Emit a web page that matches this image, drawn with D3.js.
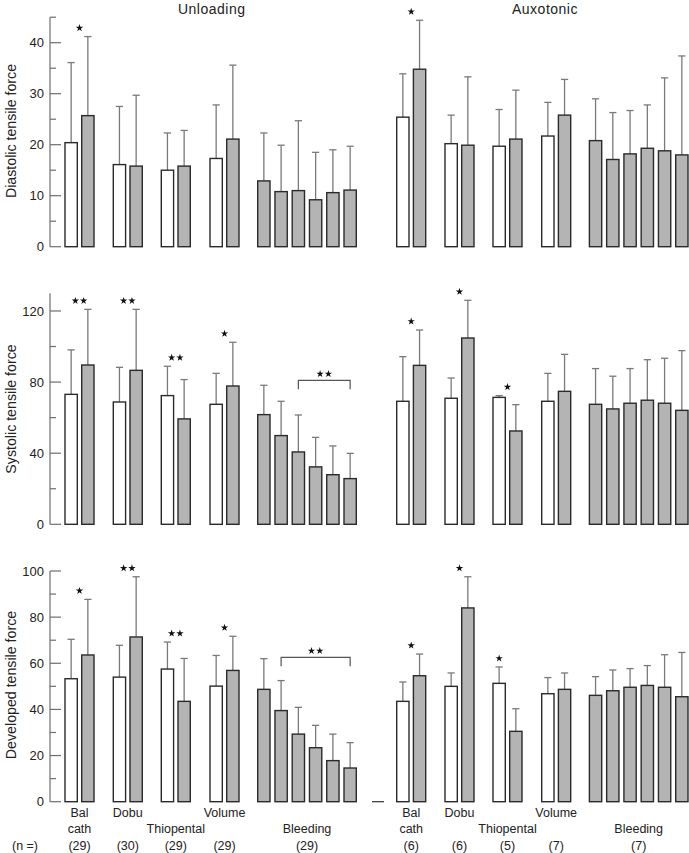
<!DOCTYPE html>
<html><head><meta charset="utf-8">
<script src="https://cdn.jsdelivr.net/npm/d3@7/dist/d3.min.js"></script>
<style>body{margin:0;background:#fff} svg{display:block} text{font-family:"Liberation Sans",Arial,sans-serif;fill:#222}</style>
</head><body><svg id="c" width="689" height="853"></svg>
<script>
// ---------------- DATA ----------------
const groupNames = ["Bal cath","Dobu","Thiopental","Volume","Bleeding"];
const nLeft = ["(29)","(30)","(29)","(29)","(29)"];
const nRight = ["(6)","(6)","(5)","(7)","(7)"];
const sideTitles = ["Unloading","Auxotonic"];
const panelTitles = ["Diastolic tensile force","Systolic tensile force","Developed tensile force"];

const diaMajor = [0,10,20,30,40];  const diaMinor = [5,15,25,35,45];
const sysMajor = [0,40,80,120];    const sysMinor = [20,60,100];
const devMajor = [0,20,40,60,80,100]; const devMinor = [10,30,50,70,90];

// Diastolic - Unloading
const diaUnlBase = [20.4,16.1,15.0,17.3];   const diaUnlBaseSD = [15.7,11.4,7.3,10.5];
const diaUnlInt  = [25.7,15.8,15.8,21.1];   const diaUnlIntSD  = [15.5,13.9,7.0,14.5];
const diaUnlBleed = [12.9,10.8,11.0,9.2,10.6,11.1]; const diaUnlBleedSD = [9.4,9.1,13.7,9.3,8.4,8.6];
const diaUnlSig = ["*","","",""];
// Diastolic - Auxotonic
const diaAuxBase = [25.4,20.2,19.7,21.7];   const diaAuxBaseSD = [8.5,5.6,7.2,6.6];
const diaAuxInt  = [34.8,19.9,21.1,25.8];   const diaAuxIntSD  = [9.6,13.4,9.6,7.0];
const diaAuxBleed = [20.8,17.1,18.2,19.3,18.8,18.0]; const diaAuxBleedSD = [8.2,9.2,8.5,8.5,14.3,19.4];
const diaAuxSig = ["*","","",""];

// Systolic - Unloading
const sysUnlBase = [73.1,68.8,72.4,67.5];   const sysUnlBaseSD = [25.0,19.5,16.5,17.4];
const sysUnlInt  = [89.6,86.6,59.3,77.8];   const sysUnlIntSD  = [31.3,34.3,22.1,24.6];
const sysUnlBleed = [61.7,49.9,40.7,32.3,27.9,25.7]; const sysUnlBleedSD = [16.5,19.3,20.8,16.6,16.2,14.2];
const sysUnlSig = ["**","**","**","*"];
const sysUnlBracket = {from:2, to:5, level:81, label:"**"};
// Systolic - Auxotonic
const sysAuxBase = [69.2,70.9,71.4,69.2];   const sysAuxBaseSD = [25.1,11.4,1.0,15.7];
const sysAuxInt  = [89.4,104.8,52.5,74.8];  const sysAuxIntSD  = [19.9,21.2,14.8,20.8];
const sysAuxBleed = [67.5,64.9,68.1,69.8,68.1,64.1]; const sysAuxBleedSD = [20.1,18.4,19.5,22.8,25.3,33.6];
const sysAuxSig = ["*","*","*",""];

// Developed - Unloading
const devUnlBase = [53.3,54.0,57.5,50.1];   const devUnlBaseSD = [17.1,13.8,11.7,13.3];
const devUnlInt  = [63.6,71.4,43.5,56.9];   const devUnlIntSD  = [24.1,26.1,18.6,14.8];
const devUnlBleed = [48.7,39.5,29.3,23.4,17.8,14.6]; const devUnlBleedSD = [13.3,13.0,11.6,9.7,11.5,11.0];
const devUnlSig = ["*","**","**","*"];
const devUnlBracket = {from:1, to:5, level:62.6, label:"**"};
// Developed - Auxotonic
const devAuxBase = [43.5,50.0,51.3,46.8];   const devAuxBaseSD = [8.4,5.8,7.1,7.0];
const devAuxInt  = [54.6,84.0,30.5,48.7];   const devAuxIntSD  = [9.4,13.5,9.8,7.1];
const devAuxBleed = [46.1,48.1,49.6,50.4,49.6,45.5]; const devAuxBleedSD = [8.1,9.0,8.1,8.6,14.1,19.2];
const devAuxSig = ["*","*","*",""];
const devAuxSigAnchor = ["pair","pair","first","pair"];

// ---------------- LAYOUT ----------------
const svg = d3.select("#c");
const GREY = "#b4b4b4", STROKE = "#2a2a2a", ERR = "#7a7a7a", AXIS = "#6e6e6e";
const axisX = 50, barW = 12.3, capHalf = 3.6;
const sideOrigin = [65, 396.7];
const unit = d3.scaleLinear().domain([0,1]).range([0,16.7]);   // one bar step
const groupStart = [0, 2.892, 5.766, 8.683, 11.539];
const bleedStep = 1.0335;

const panels = [
  {title:panelTitles[0], domain:[0,45], range:[246.7,17.2], major:diaMajor, minor:diaMinor, titleY:131,
   sides:[
     {base:diaUnlBase, baseSD:diaUnlBaseSD, int:diaUnlInt, intSD:diaUnlIntSD, bleed:diaUnlBleed, bleedSD:diaUnlBleedSD, sig:diaUnlSig},
     {base:diaAuxBase, baseSD:diaAuxBaseSD, int:diaAuxInt, intSD:diaAuxIntSD, bleed:diaAuxBleed, bleedSD:diaAuxBleedSD, sig:diaAuxSig}]},
  {title:panelTitles[1], domain:[0,130], range:[524.3,293.2], major:sysMajor, minor:sysMinor, titleY:409,
   sides:[
     {base:sysUnlBase, baseSD:sysUnlBaseSD, int:sysUnlInt, intSD:sysUnlIntSD, bleed:sysUnlBleed, bleedSD:sysUnlBleedSD, sig:sysUnlSig, bracket:sysUnlBracket},
     {base:sysAuxBase, baseSD:sysAuxBaseSD, int:sysAuxInt, intSD:sysAuxIntSD, bleed:sysAuxBleed, bleedSD:sysAuxBleedSD, sig:sysAuxSig}]},
  {title:panelTitles[2], domain:[0,100], range:[801.7,571], major:devMajor, minor:devMinor, titleY:685, breakMark:true,
   sides:[
     {base:devUnlBase, baseSD:devUnlBaseSD, int:devUnlInt, intSD:devUnlIntSD, bleed:devUnlBleed, bleedSD:devUnlBleedSD, sig:devUnlSig, bracket:devUnlBracket},
     {base:devAuxBase, baseSD:devAuxBaseSD, int:devAuxInt, intSD:devAuxIntSD, bleed:devAuxBleed, bleedSD:devAuxBleedSD, sig:devAuxSig, anchor:devAuxSigAnchor}]}
];

const star = d3.symbol().type(d3.symbolStar).size(17);
function drawStars(g, label, cx, cy){
  const n = label.length;
  for(let i=0;i<n;i++){
    g.append("path").attr("d", star).attr("fill","#111")
     .attr("transform", `translate(${cx + (i-(n-1)/2)*8.3},${cy})`);
  }
}

panels.forEach(p => {
  const y = d3.scaleLinear().domain(p.domain).range(p.range);
  const g = svg.append("g");
  g.append("line").attr("x1",axisX).attr("x2",axisX).attr("y1",y(p.domain[0])).attr("y2",y(p.domain[1]))
    .attr("stroke",AXIS).attr("stroke-width",1.2);
  p.major.forEach(v => {
    g.append("line").attr("x1",axisX).attr("x2",axisX+11).attr("y1",y(v)).attr("y2",y(v)).attr("stroke",AXIS).attr("stroke-width",1.2);
    g.append("text").attr("x",axisX-6).attr("y",y(v)).attr("dy","0.36em").attr("text-anchor","end")
      .attr("font-size",13).text(v);
  });
  p.minor.forEach(v => {
    g.append("line").attr("x1",axisX).attr("x2",axisX+6).attr("y1",y(v)).attr("y2",y(v)).attr("stroke",AXIS).attr("stroke-width",1.2);
  });
  g.append("text").attr("transform",`translate(15.5,${p.titleY}) rotate(-90)`).attr("text-anchor","middle")
    .attr("font-size",14.2).text(p.title);

  if(p.breakMark){
    g.append("line").attr("x1",372).attr("x2",384).attr("y1",y(0)).attr("y2",y(0)).attr("stroke","#333").attr("stroke-width",1.2);
  }

  p.sides.forEach((s, si) => {
    const ox = sideOrigin[si];
    const bars = [];
    s.base.forEach((v,gi) => {
      bars.push({slot:groupStart[gi], v, sd:s.baseSD[gi], fill:"#fff", grp:gi});
      bars.push({slot:groupStart[gi]+1, v:s.int[gi], sd:s.intSD[gi], fill:GREY, grp:gi});
    });
    s.bleed.forEach((v,bi) => bars.push({slot:groupStart[4]+bi*bleedStep, v, sd:s.bleedSD[bi], fill:GREY, grp:4}));
    bars.forEach(b => { b.x = ox + unit(b.slot); b.cx = b.x + barW/2; });

    bars.forEach(b => {
      g.append("line").attr("x1",b.cx).attr("x2",b.cx).attr("y1",y(b.v)).attr("y2",y(b.v+b.sd)).attr("stroke",ERR).attr("stroke-width",1.3);
      g.append("line").attr("x1",b.cx-capHalf).attr("x2",b.cx+capHalf).attr("y1",y(b.v+b.sd)).attr("y2",y(b.v+b.sd)).attr("stroke",ERR).attr("stroke-width",1.3);
    });
    g.selectAll(null).data(bars).enter().append("rect")
      .attr("x",d=>d.x).attr("y",d=>y(d.v)).attr("width",barW).attr("height",d=>y(0)-y(d.v))
      .attr("fill",d=>d.fill).attr("stroke",STROKE).attr("stroke-width",1.4);

    s.sig.forEach((lab,gi) => {
      if(!lab) return;
      const pair = bars.filter(b => b.grp===gi);
      const top = d3.max(pair, b => b.v + b.sd);
      const anchor = s.anchor ? s.anchor[gi] : "pair";
      const cx = anchor==="first" ? pair[0].cx : (pair[0].cx + pair[1].cx)/2;
      drawStars(g, lab, cx, y(top) - 8.6);
    });
    if(s.bracket){
      const bl = bars.filter(b => b.grp===4);
      const x1 = bl[s.bracket.from].cx, x2 = bl[s.bracket.to].cx, by = y(s.bracket.level);
      g.append("path").attr("d",`M${x1},${by+9}V${by}H${x2}V${by+9}`).attr("fill","none").attr("stroke","#555").attr("stroke-width",1.2);
      drawStars(g, s.bracket.label, (x1+x2)/2, by-6.4);
    }
  });
});

const titleX = [211.7, 545];
sideTitles.forEach((t,i) => svg.append("text").attr("x",titleX[i]).attr("y",14).attr("text-anchor","middle")
  .attr("font-size",14).attr("letter-spacing",0.5).text(t));

const rowY = [817, 833, 849.5];
const labelRows = {"Bal cath":[0,1], "Dobu":[0], "Thiopental":[1], "Volume":[0], "Bleeding":[1]};
[nLeft, nRight].forEach((ns, si) => {
  const ox = sideOrigin[si];
  groupNames.forEach((name, gi) => {
    const cx = gi<4 ? ox + unit(groupStart[gi] + 0.5) + barW/2
                    : ox + unit(groupStart[4] + 2.5*bleedStep) + barW/2;
    const words = name==="Bal cath" ? ["Bal","cath"] : [name];
    words.forEach((w,wi) => svg.append("text").attr("x",cx).attr("y",rowY[labelRows[name][wi]])
      .attr("text-anchor","middle").attr("font-size",12.5).text(w));
    svg.append("text").attr("x",cx).attr("y",rowY[2]).attr("text-anchor","middle").attr("font-size",12.5).text(ns[gi]);
  });
});
svg.append("text").attr("x",25).attr("y",rowY[2]).attr("text-anchor","middle").attr("font-size",12.5).text("(n =)");
</script></body></html>
